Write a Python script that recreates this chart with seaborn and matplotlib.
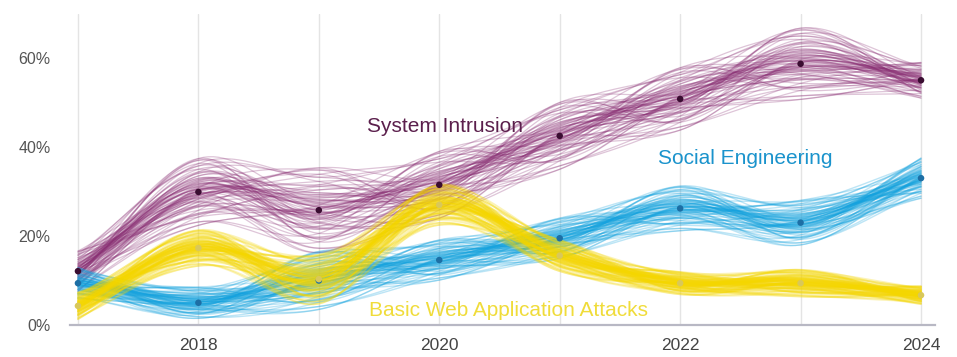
import matplotlib
matplotlib.use("Agg")
import matplotlib.pyplot as plt
import numpy as np
import pandas as pd
import seaborn as sns

sns.set_style("white")
plt.rcParams['font.family'] = ['Liberation Sans', 'DejaVu Sans']

# yearly share of breaches per pattern (%)
years = [2017, 2018, 2019, 2020, 2021, 2022, 2023, 2024]
system_intrusion = [12.1, 29.9, 25.8, 31.5, 42.5, 50.8, 58.7, 55.0]
social_engineering = [9.4, 5.0, 10.0, 14.6, 19.5, 26.2, 23.0, 33.0]
basic_web_attacks = [4.3, 17.3, 10.3, 27.0, 15.6, 9.4, 9.4, 6.7]

# half-width of the uncertainty band per year (%)
system_intrusion_spread = [4.5, 7.5, 9.5, 7.5, 7.5, 7.0, 8.0, 4.0]
social_engineering_spread = [3.5, 3.5, 6.5, 4.5, 4.5, 5.0, 5.0, 4.5]
basic_web_attacks_spread = [3.0, 4.0, 5.5, 4.5, 3.5, 2.5, 3.0, 2.0]

# fixed draw fractions inside the band (one per thin line)
draw_fractions = [0.12, -0.45, 0.78, -0.05, 0.33, -0.90, 0.02, 0.56, -0.22, -0.64,
                  0.18, 0.95, -0.31, 0.07, -0.12, 0.41, -0.75, 0.25, -0.02, 0.68,
                  -0.38, 0.09, -0.55, 0.29, -0.16, 0.85, -0.08, 0.48, -0.28, -1.00,
                  0.15, 0.60, -0.42, 0.04, -0.19, 0.37, -0.68, 0.22, -0.10, 1.00]

series = [
    ("System Intrusion", system_intrusion, system_intrusion_spread, "#8a2f74", "#3a0d31", 0.9),
    ("Social Engineering", social_engineering, social_engineering_spread, "#12a2de", "#1d6fa5", 1.0),
    ("Basic Web Application Attacks", basic_web_attacks, basic_web_attacks_spread, "#f4d600", "#d9c85a", 1.3),
]


def smooth(xs, ys, steps=24):
    xs = np.asarray(xs, float)
    ys = np.asarray(ys, float)
    p = np.concatenate([[2 * ys[0] - ys[1]], ys, [2 * ys[-1] - ys[-2]]])
    out_x, out_y = [], []
    t = np.linspace(0, 1, steps, endpoint=False)
    for i in range(len(xs) - 1):
        p0, p1, p2, p3 = p[i], p[i + 1], p[i + 2], p[i + 3]
        y = 0.5 * (2 * p1 + (-p0 + p2) * t + (2 * p0 - 5 * p1 + 4 * p2 - p3) * t ** 2
                   + (-p0 + 3 * p1 - 3 * p2 + p3) * t ** 3)
        out_x.append(xs[i] + t * (xs[i + 1] - xs[i]))
        out_y.append(y)
    out_x.append([xs[-1]])
    out_y.append([ys[-1]])
    return np.concatenate(out_x), np.concatenate(out_y)


def draws_frame(values, spread):
    n = len(draw_fractions)
    rows = []
    k = 0
    for step in (11, 17):
        for i in range(n):
            ys = [values[j] + spread[j] * draw_fractions[(i + step * j) % n] for j in range(len(years))]
            sx, sy = smooth(years, ys)
            rows.append(pd.DataFrame({"year": sx, "value": sy, "draw": k}))
            k += 1
    return pd.concat(rows, ignore_index=True)


fig = plt.figure(figsize=(9.57, 3.57), dpi=100)
ax = fig.add_axes([70 / 957, 32 / 357, 865 / 957, 311.5 / 357])

for name, values, spread, color, dot, lw in series:
    df = draws_frame(values, spread)
    sns.lineplot(data=df, x="year", y="value", units="draw", estimator=None,
                 color=color, alpha=0.28, lw=lw, ax=ax, legend=False)

for name, values, spread, color, dot, lw in series:
    pts = pd.DataFrame({"year": years, "value": values})
    sns.scatterplot(data=pts, x="year", y="value", color=dot, s=22, edgecolor="none",
                    ax=ax, zorder=5, legend=False)

ax.text(2019.4, 44.5, "System Intrusion", color="#5b1f4c", fontsize=15, va="center")
ax.text(2021.82, 37.5, "Social Engineering", color="#1a93cc", fontsize=15, va="center")
ax.text(2019.42, 3.2, "Basic Web Application Attacks", color="#f0dc3a", fontsize=15, va="center")

ax.set_xlim(2016.934, 2024.116)
ax.set_ylim(0, 70)
ax.set_xticks(years)
ax.set_xticklabels([str(y) if y % 2 == 0 else "" for y in years])
ax.set_yticks([0, 20, 40, 60])
ax.set_yticklabels(["0%", "20%", "40%", "60%"])
ax.tick_params(axis="x", length=0, pad=9, labelsize=12.5, labelcolor="#444444")
ax.tick_params(axis="y", length=0, pad=14, labelsize=11.5, labelcolor="#555555")
ax.xaxis.grid(True, color="#e4e4e4", lw=1)
ax.yaxis.grid(False)
ax.set_axisbelow(True)
for side in ["top", "right", "left"]:
    ax.spines[side].set_visible(False)
ax.spines["bottom"].set_color("#b8b8c4")
ax.spines["bottom"].set_linewidth(1.6)
ax.set_xlabel("")
ax.set_ylabel("")

fig.savefig("out.png", dpi=100)
